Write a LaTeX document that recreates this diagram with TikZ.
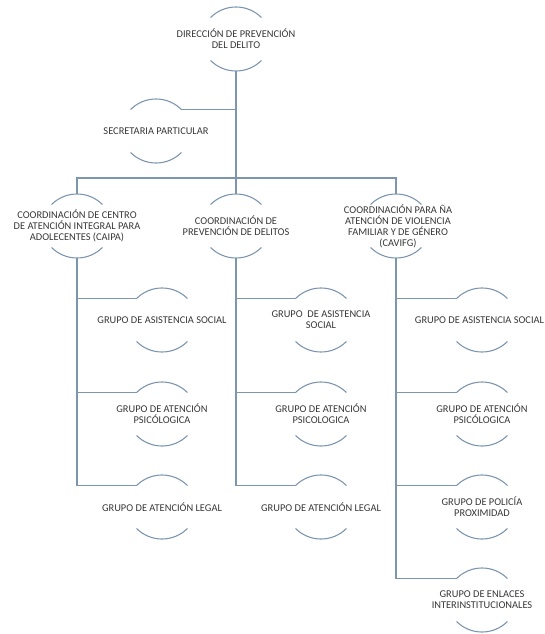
\documentclass[tikz,border=0pt]{standalone}
\usepackage{fontspec}
\setmainfont{Carlito}
\definecolor{linec}{RGB}{125,150,176}
\definecolor{txtc}{RGB}{55,55,55}
\tikzset{
  tshift/.store in=\tshiftval, tshift=0pt,
  orgline/.style={draw=linec, line width=1.1pt},
  lbl/.style={text=txtc, font=\fontsize{10.4}{11}\selectfont, align=center, inner sep=0pt},
  pics/halfcirc/.style={code={
    \node[lbl, xshift=\tshiftval] (-t) at (0,0) {#1};
    \coordinate (-tp) at (0,-32);
    \coordinate (-bp) at (0,32);
    \coordinate (-tl) at (-25.46,-21.46);
    \coordinate (-tr) at (25.46,-21.46);
    \draw[orgline] (-25.46,-21.46) arc[start angle=135,end angle=45,radius=36pt];
    \draw[orgline] (-25.46,21.46) arc[start angle=225,end angle=315,radius=36pt];
  }}
}
\begin{document}
\begin{tikzpicture}[x=1pt,y=-1pt]
\useasboundingbox (0,0) rectangle (545,634);
% nodes
\pic (top) at (236,39) {halfcirc={DIRECCIÓN DE PREVENCIÓN\\DEL DELITO}};
\pic (sec) at (156,131) {halfcirc={SECRETARIA PARTICULAR}};
\pic (caipa) at (77,226) {halfcirc={COORDINACIÓN DE CENTRO\\DE ATENCIÓN INTEGRAL PARA\\ADOLECENTES (CAIPA)}};
\pic (cpd) at (236,226) {halfcirc={COORDINACIÓN DE\\PREVENCIÓN DE DELITOS}};
\pic[tshift=2pt] (cav) at (396,226) {halfcirc={COORDINACIÓN PARA ÑA\\ATENCIÓN DE VIOLENCIA\\FAMILIAR Y DE GÉNERO\\(CAVIFG)}};
\pic (ga1) at (162,320) {halfcirc={GRUPO DE ASISTENCIA SOCIAL}};
\pic (ga2) at (162,414) {halfcirc={GRUPO DE ATENCIÓN\\PSICÓLOGICA}};
\pic (ga3) at (162,507) {halfcirc={GRUPO DE ATENCIÓN LEGAL}};
\pic (gb1) at (321,320) {halfcirc={GRUPO\ \ DE ASISTENCIA\\SOCIAL}};
\pic (gb2) at (321,414) {halfcirc={GRUPO DE ATENCIÓN\\PSICOLOGICA}};
\pic (gb3) at (321,507) {halfcirc={GRUPO DE ATENCIÓN LEGAL}};
\pic[tshift=-2.5pt] (gc1) at (482,320) {halfcirc={GRUPO DE ASISTENCIA SOCIAL}};
\pic (gc2) at (482,414) {halfcirc={GRUPO DE ATENCIÓN\\PSICÓLOGICA}};
\pic (gc3) at (482,507) {halfcirc={GRUPO DE POLICÍA\\PROXIMIDAD}};
\pic (gc4) at (482,600) {halfcirc={GRUPO DE ENLACES\\INTERINSTITUCIONALES}};
\coordinate (bus) at (236,178);
% connectors
\draw[orgline] (top-bp) -- (cpd-tp);
\draw[orgline] (sec-tr) -- (sec-tr -| top-bp);
\draw[orgline] (caipa-tp) |- (bus) -| (cav-tp);
\draw[orgline] (caipa-bp) |- (ga3-tl);
\draw[orgline] (ga1-tl -| caipa-bp) -- (ga1-tl);
\draw[orgline] (ga2-tl -| caipa-bp) -- (ga2-tl);
\draw[orgline] (cpd-bp) |- (gb3-tl);
\draw[orgline] (gb1-tl -| cpd-bp) -- (gb1-tl);
\draw[orgline] (gb2-tl -| cpd-bp) -- (gb2-tl);
\draw[orgline] (cav-bp) |- (gc4-tl);
\draw[orgline] (gc1-tl -| cav-bp) -- (gc1-tl);
\draw[orgline] (gc2-tl -| cav-bp) -- (gc2-tl);
\draw[orgline] (gc3-tl -| cav-bp) -- (gc3-tl);
\end{tikzpicture}
\end{document}
